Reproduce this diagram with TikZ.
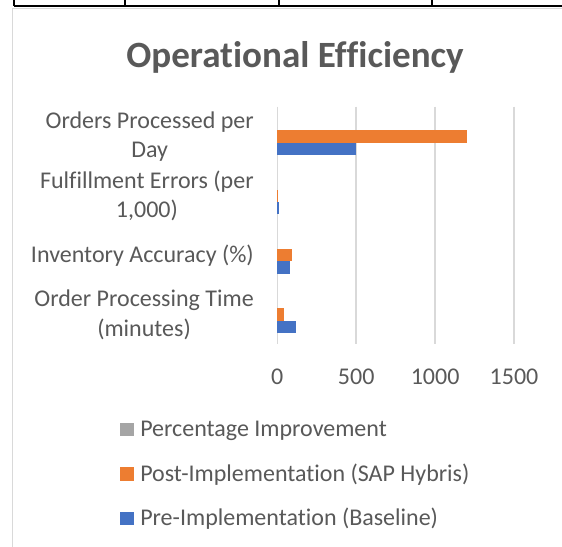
\documentclass[tikz,border=0pt]{standalone}
\usepackage{fontspec}
\setmainfont{Carlito}[Ligatures=NoCommon]
\usetikzlibrary{positioning}
\definecolor{xlblue}{HTML}{4472C4}
\definecolor{xlorange}{HTML}{ED7D31}
\definecolor{xlgray}{HTML}{A5A5A5}
\definecolor{xlink}{HTML}{595959}
\definecolor{xlgrid}{HTML}{D9D9D9}
\tikzset{
  titleText/.style={font=\fontsize{27.8}{33}\selectfont\bfseries, text=xlink, inner sep=0pt, anchor=base},
  catLabel/.style={font=\fontsize{18}{22.1}\selectfont, text=xlink, align=center, inner sep=0pt, anchor=east},
  tickLabel/.style={font=\fontsize{18}{22}\selectfont, text=xlink, inner sep=0pt, anchor=base},
  legendText/.style={font=\fontsize{18}{22}\selectfont, text=xlink, inner sep=0pt},
  legendKey/.style={minimum size=10.1pt, inner sep=0pt, anchor=south west},
  gridLine/.style={draw=xlgrid, line width=1.1pt},
  tableLine/.style={draw=black, line width=0.8pt},
  frameLine/.style={draw=xlgrid, line width=0.8pt},
  preBar/.style={fill=xlblue},
  postBar/.style={fill=xlorange}
}

\begin{document}
\begin{tikzpicture}[x=0.75pt, y=-0.75pt]
  \fill[white] (0,0) rectangle (562,547);
  \useasboundingbox (0,0) rectangle (562,547);

  % table edge above the chart
  \draw[tableLine] (14,6) -- (562,6);
  \foreach \x in {14,125,279,432}
    \draw[tableLine] (\x,0) -- (\x,6);

  % chart frame
  \draw[frameLine] (562,8.7) -- (12.7,8.7) -- (12.7,547);

  \node[titleText] (title) at (295,67.3) {Operational Efficiency};

  % grid and value axis
  \foreach \k in {0,...,3} {
    \pgfmathtruncatemacro{\val}{500*\k}
    \draw[gridLine] ({277.3+78.9*\k},106.7) -- ({277.3+78.9*\k},344.3);
    \node[tickLabel] (tick\k) at ({277.3+78.9*\k},384) {\val};
  }

  % bars: centre / baseline / post
  \foreach \c/\pre/\post in {136.4/500/1200, 195.8/12/3, 255.2/78/92, 314.6/120/45} {
    \fill[postBar] (277.3,\c-6.15) rectangle ({277.3+0.1578*\post},\c+6.15);
    \fill[preBar] (277.3,\c+6.15) rectangle ({277.3+0.1578*\pre},\c+18.45);
  }

  \node[catLabel] (catOrders) at (254,136.4) {Orders Processed per\\Day};
  \node[catLabel] (catErrors) at (254,195.8) {Fulfillment Errors (per\\1,000)};
  \node[catLabel] (catAccuracy) at (254,255.2) {Inventory Accuracy (\%)};
  \node[catLabel] (catTime) at (254,314.6) {Order Processing Time\\(minutes)};

  % legend
  \node[legendKey, fill=xlgray] (keyPct) at (120,436.5) {};
  \node[legendText, right=4.5pt of keyPct.south east, anchor=base west] (legPct) {Percentage Improvement};
  \node[legendKey, fill=xlorange] (keyPost) at (120,481.1) {};
  \node[legendText, right=4.5pt of keyPost.south east, anchor=base west] (legPost) {Post-Implementation (SAP Hybris)};
  \node[legendKey, fill=xlblue] (keyPre) at (120,525.7) {};
  \node[legendText, right=4.5pt of keyPre.south east, anchor=base west] (legPre) {Pre-Implementation (Baseline)};
\end{tikzpicture}
\end{document}
